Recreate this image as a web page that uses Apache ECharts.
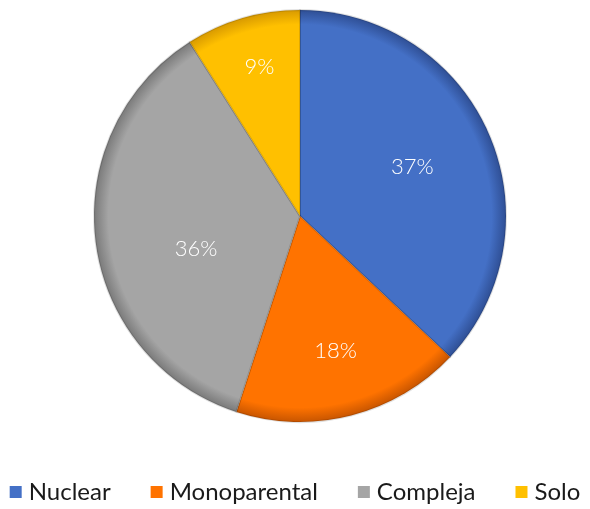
<!DOCTYPE html>
<html>
<head>
<meta charset="utf-8">
<style>
  html, body { margin: 0; padding: 0; background: #ffffff; }
  #chart { width: 590px; height: 509px; }
</style>
<script src="https://cdn.jsdelivr.net/npm/echarts@6/dist/echarts.min.js"></script>
</head>
<body>
<div id="chart"></div>
<script>
// Household types and their shares (%)
const categories = ['Nuclear', 'Monoparental', 'Compleja', 'Solo'];
const shares = [37, 18, 36, 9];
const colors = ['#4470C6', '#FF7300', '#A5A5A5', '#FFC000'];
const rimColors = ['#2F4F95', '#C85500', '#7A7A7A', '#D89A00'];

const CX = 300, CY = 216, R = 206;

function sliceFill(i) {
  return {
    type: 'radial', x: CX, y: CY, r: R, global: true,
    colorStops: [
      { offset: 0, color: colors[i] },
      { offset: 0.93, color: colors[i] },
      { offset: 1, color: rimColors[i] }
    ]
  };
}

// label nudges so each percentage sits where it reads best in its slice
const labelShift = [[-8, 3], [3, 8], [26, 16], [-4, -23]];

const chart = echarts.init(document.getElementById('chart'));
chart.setOption({
  animation: false,
  color: colors,
  legend: {
    bottom: 0,
    left: 'center',
    icon: 'rect',
    itemWidth: 12,
    itemHeight: 12,
    itemGap: 40,
    textStyle: { fontFamily: 'Lato', fontSize: 24, color: '#1a1a1a', padding: [0, 0, 0, 2] },
    data: categories.map((name, i) => ({ name, itemStyle: { color: colors[i], borderWidth: 0 } }))
  },
  series: [
    {
      type: 'pie',
      center: [CX, CY],
      radius: [0, R],
      startAngle: 90,
      clockwise: true,
      label: { show: false },
      labelLine: { show: false },
      emphasis: { disabled: true },
      itemStyle: { borderColor: 'rgba(0,0,0,0.12)', borderWidth: 2 },
      data: categories.map((name, i) => ({ name, value: shares[i], itemStyle: { color: sliceFill(i) } }))
    },
    {
      // label layer: same shares, transparent sectors, labels placed further out
      type: 'pie',
      center: [CX, CY],
      radius: [0, 256],
      startAngle: 90,
      clockwise: true,
      silent: true,
      legendHoverLink: false,
      itemStyle: { color: 'rgba(0,0,0,0)' },
      label: {
        show: true,
        position: 'inside',
        formatter: p => shares[p.dataIndex] + '%',
        fontFamily: 'Lato',
        fontWeight: 300,
        fontSize: 22,
        color: '#ffffff'
      },
      labelLayout: p => ({ dx: labelShift[p.dataIndex][0], dy: labelShift[p.dataIndex][1] }),
      labelLine: { show: false },
      emphasis: { disabled: true },
      data: categories.map((name, i) => ({ name: name + ' ', value: shares[i] }))
    }
  ]
});
</script>
</body>
</html>
